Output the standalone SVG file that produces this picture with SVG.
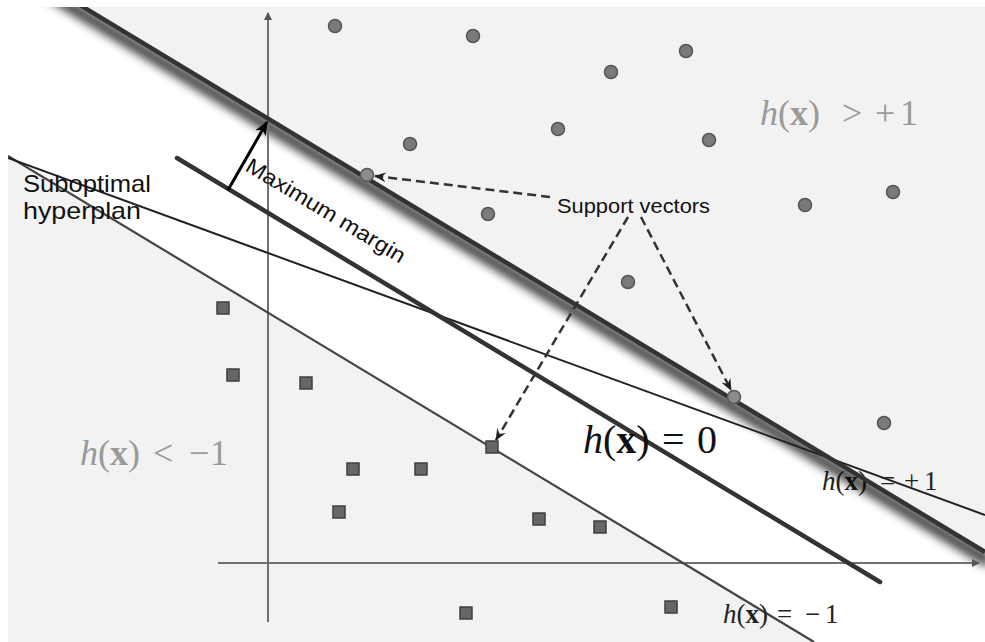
<svg xmlns="http://www.w3.org/2000/svg" width="985" height="642" viewBox="0 0 985 642">
<style>
.sans{font-family:"Liberation Sans",Arial,sans-serif;fill:#111}
.math{font-family:"Liberation Serif","DejaVu Serif",serif}
.it{font-style:italic}
.bf{font-weight:bold}
.pt{fill:#7a7a7a;stroke:#555;stroke-width:1.5}
.sv{fill:#8c8c8c;stroke:#5a5a5a;stroke-width:1.5}
.sq{fill:#666;stroke:#3f3f3f;stroke-width:1.5}
.dash{fill:none;stroke:#333;stroke-width:2.5;stroke-dasharray:9 5}
</style>
<defs>
<clipPath id="frame"><rect x="8" y="7" width="977" height="635"/></clipPath>
<clipPath id="band"><polygon points="0,-43 985,552 985,642 814,642 0,151"/></clipPath>
<filter id="blur" x="-10%" y="-50%" width="120%" height="200%"><feGaussianBlur stdDeviation="5"/></filter>
<marker id="ah" viewBox="0 0 12 10" refX="11" refY="5" markerWidth="12" markerHeight="10" markerUnits="userSpaceOnUse" orient="auto"><path d="M0,0 L12,5 L0,10 L4,5 z" fill="#222"/></marker>
<marker id="ahk" viewBox="0 0 14 12" refX="13" refY="6" markerWidth="14" markerHeight="12" markerUnits="userSpaceOnUse" orient="auto"><path d="M0,0 L14,6 L0,12 L4,6 z" fill="#000"/></marker>
<marker id="ax" viewBox="0 0 8 8" refX="7" refY="4" markerWidth="8" markerHeight="8" markerUnits="userSpaceOnUse" orient="auto"><path d="M0,0 L8,4 L0,8 z" fill="#555"/></marker>
</defs>
<rect width="985" height="642" fill="#fff"/>
<rect x="8" y="7" width="977" height="635" fill="#f2f2f2"/>
<g id="regions" clip-path="url(#frame)">
<polygon points="0,-43 985,552 985,642 814,642 0,151" fill="#fff"/>
</g>
<text id="label-plus1" class="math" y="490" font-size="27" fill="#222"><tspan x="822" class="it">h</tspan>(<tspan class="bf">x</tspan>)<tspan x="880">=</tspan><tspan x="904">+</tspan><tspan x="924">1</tspan></text>
<g id="shadow" clip-path="url(#frame)">
<g clip-path="url(#band)">
<line x1="-4" y1="-38" x2="990" y2="562" stroke="#000" stroke-width="12" opacity="0.75" filter="url(#blur)"/>
</g>
</g>
<g id="axes" stroke="#707070" stroke-width="2" fill="none">
<line x1="268" y1="622" x2="268" y2="13" marker-end="url(#ax)"/>
<line x1="218" y1="563" x2="979" y2="563" marker-end="url(#ax)"/>
</g>
<g id="lines" clip-path="url(#frame)" fill="none">
<line id="h-minus1" x1="8" y1="156" x2="814" y2="642" stroke="#444" stroke-width="2.2"/>
<line id="suboptimal" x1="8" y1="158" x2="985" y2="515" stroke="#222" stroke-width="2"/>
<line id="h-zero" x1="177" y1="158" x2="880" y2="582" stroke="#333" stroke-width="4.5" stroke-linecap="round"/>
<line id="h-plus1" x1="70" y1="-1" x2="985" y2="552" stroke="#333" stroke-width="4.5"/>
</g>
<g id="class-plus">
<circle class="pt" cx="335" cy="26" r="6.5"/>
<circle class="pt" cx="473" cy="36" r="6.5"/>
<circle class="pt" cx="611" cy="72" r="6.5"/>
<circle class="pt" cx="686" cy="51" r="6.5"/>
<circle class="pt" cx="558" cy="129" r="6.5"/>
<circle class="pt" cx="709" cy="140" r="6.5"/>
<circle class="pt" cx="410" cy="144" r="6.5"/>
<circle class="pt" cx="488" cy="214" r="6.5"/>
<circle class="pt" cx="628" cy="282" r="6.5"/>
<circle class="pt" cx="805" cy="205" r="6.5"/>
<circle class="pt" cx="893" cy="192" r="6.5"/>
<circle class="pt" cx="884" cy="423" r="6.5"/>
<circle id="sv1" class="sv" cx="367" cy="175" r="6.5"/>
<circle id="sv2" class="sv" cx="734" cy="397" r="6.5"/>
</g>
<g id="class-minus">
<rect class="sq" x="217" y="302" width="12" height="12"/>
<rect class="sq" x="227" y="369" width="12" height="12"/>
<rect class="sq" x="300" y="377" width="12" height="12"/>
<rect class="sq" x="347" y="463" width="12" height="12"/>
<rect class="sq" x="415" y="463" width="12" height="12"/>
<rect class="sq" x="333" y="506" width="12" height="12"/>
<rect class="sq" x="533" y="513" width="12" height="12"/>
<rect class="sq" x="594" y="521" width="12" height="12"/>
<rect class="sq" x="460" y="607" width="12" height="12"/>
<rect class="sq" x="665" y="601" width="12" height="12"/>
<rect id="sv3" class="sq" x="486" y="441" width="12" height="12"/>
</g>
<g id="connectors" fill="none">
<line id="margin-arrow" x1="228" y1="190" x2="267" y2="122" stroke="#000" stroke-width="3" marker-end="url(#ahk)"/>
<line class="dash" x1="550" y1="197" x2="375" y2="176" marker-end="url(#ah)"/>
<line class="dash" x1="628" y1="217" x2="496" y2="440" marker-end="url(#ah)"/>
<line class="dash" x1="641" y1="217" x2="731" y2="390" marker-end="url(#ah)"/>
</g>
<g id="labels">
<text class="sans" x="23" y="192" font-size="24" textLength="128" lengthAdjust="spacingAndGlyphs">Suboptimal</text>
<text class="sans" x="23" y="219" font-size="24" textLength="118" lengthAdjust="spacingAndGlyphs">hyperplan</text>
<text class="sans" x="557" y="213" font-size="21" textLength="153" lengthAdjust="spacingAndGlyphs">Support vectors</text>
<text class="sans" x="0" y="0" font-size="21.5" textLength="182" lengthAdjust="spacingAndGlyphs" transform="translate(244,170) rotate(31)">Maximum margin</text>
<text class="math" y="125" font-size="36" fill="#9a9a9a"><tspan x="760" class="it">h</tspan>(<tspan class="bf">x</tspan>)<tspan x="842">&gt;</tspan><tspan x="875">+</tspan><tspan x="900">1</tspan></text>
<text class="math" y="465" font-size="36" fill="#9a9a9a"><tspan x="80" class="it">h</tspan>(<tspan class="bf">x</tspan>)<tspan x="153">&lt;</tspan><tspan x="189">−</tspan><tspan x="210">1</tspan></text>
<text class="math" y="453" font-size="40" fill="#111"><tspan x="583" class="it">h</tspan>(<tspan class="bf">x</tspan>)<tspan x="662">=</tspan><tspan x="697">0</tspan></text>
<text class="math" y="623" font-size="27" fill="#222"><tspan x="723" class="it">h</tspan>(<tspan class="bf">x</tspan>)<tspan x="777">=</tspan><tspan x="805">−</tspan><tspan x="825">1</tspan></text>
</g>
</svg>
